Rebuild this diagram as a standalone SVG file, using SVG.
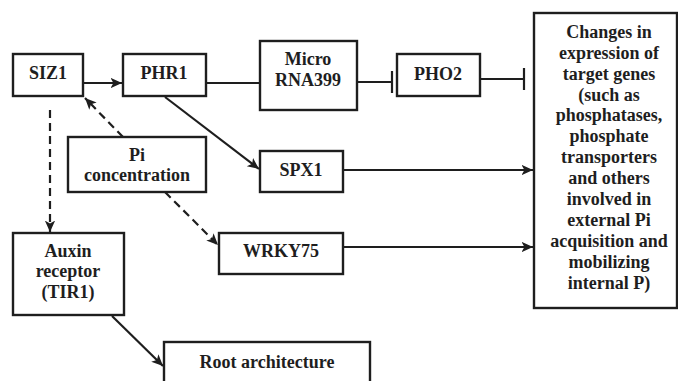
<svg xmlns="http://www.w3.org/2000/svg" width="678" height="381" viewBox="0 0 678 381">
  <style>
    .box { fill: #ffffff; stroke: #1e1e1e; stroke-width: 2.4; }
    .lbl { font-family: "Liberation Serif", "Times New Roman", serif; font-weight: bold; font-size: 18px; fill: #1e1e1e; text-anchor: middle; }
    .ln { fill: none; stroke: #1e1e1e; stroke-width: 2.2; }
    .dash { stroke-dasharray: 8 5; }
  </style>
  <defs>
    <marker id="arrow" viewBox="0 0 10 10" refX="10" refY="5" markerWidth="5.2" markerHeight="5.2" orient="auto" markerUnits="strokeWidth">
      <path d="M0,0.5 L10,5 L0,9.5 L2.5,5 Z" fill="#1e1e1e"/>
    </marker>
  </defs>
  <rect width="678" height="381" fill="#ffffff"/>

  <g id="connectors">
    <!-- SIZ1 to PHR1 -->
    <line class="ln" x1="83" y1="83" x2="122" y2="83" marker-end="url(#arrow)"/>
    <!-- PHR1 to MicroRNA399 -->
    <line class="ln" x1="206" y1="83" x2="260" y2="83"/>
    <!-- MicroRNA399 inhibits PHO2 -->
    <line class="ln" x1="357" y1="82" x2="392" y2="82"/>
    <line class="ln" x1="392" y1="71" x2="392" y2="93"/>
    <!-- PHO2 inhibits target genes -->
    <line class="ln" x1="480" y1="79" x2="524" y2="79"/>
    <line class="ln" x1="524" y1="68" x2="524" y2="90"/>
    <!-- PHR1 to SPX1 -->
    <line class="ln" x1="165" y1="97" x2="259" y2="169" marker-end="url(#arrow)"/>
    <!-- SPX1 to target genes -->
    <line class="ln" x1="343" y1="170" x2="533" y2="170" marker-end="url(#arrow)"/>
    <!-- WRKY75 to target genes -->
    <line class="ln" x1="343" y1="247" x2="533" y2="247" marker-end="url(#arrow)"/>
    <!-- Pi concentration to SIZ1 (dashed) -->
    <line class="ln dash" x1="123" y1="137" x2="85" y2="98" marker-end="url(#arrow)"/>
    <!-- Pi concentration to WRKY75 (dashed) -->
    <line class="ln dash" x1="165" y1="192" x2="218" y2="245" marker-end="url(#arrow)"/>
    <!-- SIZ1 to auxin receptor (dashed) -->
    <line class="ln dash" x1="50" y1="110" x2="50" y2="232" marker-end="url(#arrow)"/>
    <!-- Auxin receptor to root architecture -->
    <line class="ln" x1="112" y1="316" x2="163" y2="366" marker-end="url(#arrow)"/>
  </g>

  <g id="siz1">
    <rect class="box" x="13" y="54" width="70" height="42"/>
    <text class="lbl" x="48" y="79">SIZ1</text>
  </g>
  <g id="phr1">
    <rect class="box" x="123" y="54" width="83" height="42"/>
    <text class="lbl" x="164" y="79">PHR1</text>
  </g>
  <g id="microrna399">
    <rect class="box" x="260" y="41" width="97" height="69"/>
    <text class="lbl" x="308" y="65">Micro</text>
    <text class="lbl" x="308" y="86">RNA399</text>
  </g>
  <g id="pho2">
    <rect class="box" x="397" y="54" width="83" height="42"/>
    <text class="lbl" x="438" y="80">PHO2</text>
  </g>
  <g id="target-genes">
    <rect class="box" x="534" y="13" width="143" height="295"/>
    <text class="lbl" x="609" y="38">Changes in</text>
    <text class="lbl" x="609" y="59">expression of</text>
    <text class="lbl" x="609" y="80">target genes</text>
    <text class="lbl" x="609" y="101">(such as</text>
    <text class="lbl" x="609" y="121">phosphatases,</text>
    <text class="lbl" x="609" y="142">phosphate</text>
    <text class="lbl" x="609" y="163">transporters</text>
    <text class="lbl" x="609" y="184">and others</text>
    <text class="lbl" x="609" y="205">involved in</text>
    <text class="lbl" x="609" y="226">external Pi</text>
    <text class="lbl" x="609" y="247">acquisition and</text>
    <text class="lbl" x="609" y="268">mobilizing</text>
    <text class="lbl" x="609" y="289">internal P)</text>
  </g>
  <g id="pi-concentration">
    <rect class="box" x="68" y="137" width="138" height="55"/>
    <text class="lbl" x="137" y="161">Pi</text>
    <text class="lbl" x="137" y="181">concentration</text>
  </g>
  <g id="spx1">
    <rect class="box" x="260" y="151" width="83" height="41"/>
    <text class="lbl" x="301" y="176">SPX1</text>
  </g>
  <g id="wrky75">
    <rect class="box" x="219" y="233" width="124" height="41"/>
    <text class="lbl" x="281" y="257">WRKY75</text>
  </g>
  <g id="auxin-receptor">
    <rect class="box" x="13" y="233" width="111" height="82"/>
    <text class="lbl" x="68" y="257">Auxin</text>
    <text class="lbl" x="68" y="277">receptor</text>
    <text class="lbl" x="68" y="298">(TIR1)</text>
  </g>
  <g id="root-architecture">
    <rect class="box" x="164" y="342" width="206" height="50"/>
    <text class="lbl" x="267" y="368">Root architecture</text>
  </g>
</svg>
